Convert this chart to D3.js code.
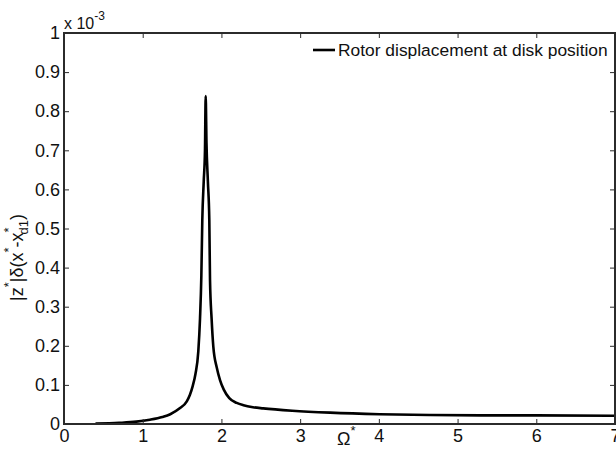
<!DOCTYPE html>
<html>
<head>
<meta charset="utf-8">
<script src="https://cdn.jsdelivr.net/npm/d3@7"></script>
<style>
  body { margin: 0; background: #fff; }
  svg { display: block; font-family: "Liberation Sans", Arial, sans-serif; }
</style>
</head>
<body>
<svg id="chart" width="616" height="449"></svg>
<script>
// rotor response (amplitude in units of 1e-3)
const omega = [0.40, 0.70, 0.92, 1.09, 1.25, 1.35, 1.47, 1.56, 1.60, 1.635, 1.67, 1.706, 1.728, 1.745, 1.757,
  1.775, 1.791, 1.80, 1.81, 1.828, 1.846, 1.855, 1.875, 1.897, 1.94, 1.982, 2.03, 2.10, 2.194,
  2.28, 2.40, 2.53, 2.9, 3.38, 4.01, 4.65, 5.3, 6.0, 7.0];
const amp = [0.001, 0.003, 0.006, 0.011, 0.018, 0.025, 0.040, 0.058, 0.075, 0.097, 0.128, 0.185, 0.27, 0.38, 0.522,
  0.62, 0.70, 0.839, 0.72, 0.62, 0.522, 0.368, 0.27, 0.198, 0.145, 0.1125, 0.088, 0.066, 0.054,
  0.048, 0.043, 0.040, 0.034, 0.029, 0.025, 0.023, 0.022, 0.022, 0.021];
const xTicks = [0, 1, 2, 3, 4, 5, 6, 7];
const yTicks = [0, 0.1, 0.2, 0.3, 0.4, 0.5, 0.6, 0.7, 0.8, 0.9, 1];
const seriesName = 'Rotor displacement at disk position';

const svg = d3.select('#chart');
const box = {left: 64, right: 615, top: 33, bottom: 424};

const x = d3.scaleLinear().domain([0, 7]).range([box.left, box.right]);
const y = d3.scaleLinear().domain([0, 1]).range([box.bottom, box.top]);

const axisColor = '#2b2b2b';

// curve
const points = omega.map((o, i) => ({o: o, a: amp[i]}));
svg.append('path')
  .datum(points)
  .attr('fill', 'none')
  .attr('stroke', '#000')
  .attr('stroke-width', 2.6)
  .attr('stroke-linejoin', 'round')
  .attr('d', d3.line().x(d => x(d.o)).y(d => y(d.a)).curve(d3.curveMonotoneX));

// axes, matlab style: ticks pointing in, on all four sides
function styleAxis(g) {
  g.select('.domain').remove();
  g.selectAll('.tick line').attr('stroke', axisColor).attr('stroke-width', 1);
  g.selectAll('.tick text').attr('fill', '#111').style('font-size', '18px');
}

svg.append('g')
  .attr('transform', `translate(0,${box.bottom})`)
  .call(d3.axisBottom(x).tickValues(xTicks).tickFormat(d3.format('d')).tickSizeInner(-5).tickSizeOuter(0).tickPadding(5))
  .call(styleAxis);

svg.append('g')
  .attr('transform', `translate(0,${box.top})`)
  .call(d3.axisTop(x).tickValues(xTicks).tickSizeInner(-5).tickSizeOuter(0).tickFormat(''))
  .call(styleAxis);

svg.append('g')
  .attr('transform', `translate(${box.left},0)`)
  .call(d3.axisLeft(y).tickValues(yTicks).tickFormat(d => d === 0 || d === 1 ? d3.format('d')(d) : d3.format('.1f')(d)).tickSizeInner(-5).tickSizeOuter(0).tickPadding(4))
  .call(styleAxis);

svg.append('g')
  .attr('transform', `translate(${box.right},0)`)
  .call(d3.axisRight(y).tickValues(yTicks).tickSizeInner(-5).tickSizeOuter(0).tickFormat(''))
  .call(styleAxis);

svg.append('rect')
  .attr('x', box.left).attr('y', box.top)
  .attr('width', box.right - box.left).attr('height', box.bottom - box.top)
  .attr('fill', 'none').attr('stroke', axisColor).attr('stroke-width', 2);

// exponent label
const expo = svg.append('text').attr('x', 64).attr('y', 29).attr('fill', '#111').style('font-size', '16px');
expo.append('tspan').text('x 10');
expo.append('tspan').attr('dy', -9).style('font-size', '12px').text('-3');

// x label
const xl = svg.append('text').attr('x', 337).attr('y', 445).attr('fill', '#111').style('font-size', '18px');
xl.append('tspan').text('Ω');
xl.append('tspan').attr('dy', -10).style('font-size', '13px').text('*');

// y label
const yl = svg.append('text')
  .attr('transform', 'translate(23,301) rotate(-90)')
  .attr('fill', '#111').style('font-size', '18px');
yl.append('tspan').text('|z');
yl.append('tspan').attr('dy', -10).style('font-size', '13px').text('*');
yl.append('tspan').attr('dy', 10).text('|δ(x');
yl.append('tspan').attr('dy', -10).style('font-size', '13px').text('*');
yl.append('tspan').attr('dy', 10).text('-x');
yl.append('tspan').attr('dy', -10).style('font-size', '13px').text('*');
yl.append('tspan').attr('dy', 15).attr('dx', -7).style('font-size', '13px').text('d1');
yl.append('tspan').attr('dy', -5).text(')');

// legend
const legend = svg.append('g').attr('transform', 'translate(313,50)');
legend.append('line').attr('x1', 0).attr('x2', 22).attr('y1', 0).attr('y2', 0)
  .attr('stroke', '#000').attr('stroke-width', 2.6);
legend.append('text').attr('x', 25).attr('y', 6).attr('fill', '#111')
  .style('font-size', '17.4px').text(seriesName);
</script>
</body>
</html>
